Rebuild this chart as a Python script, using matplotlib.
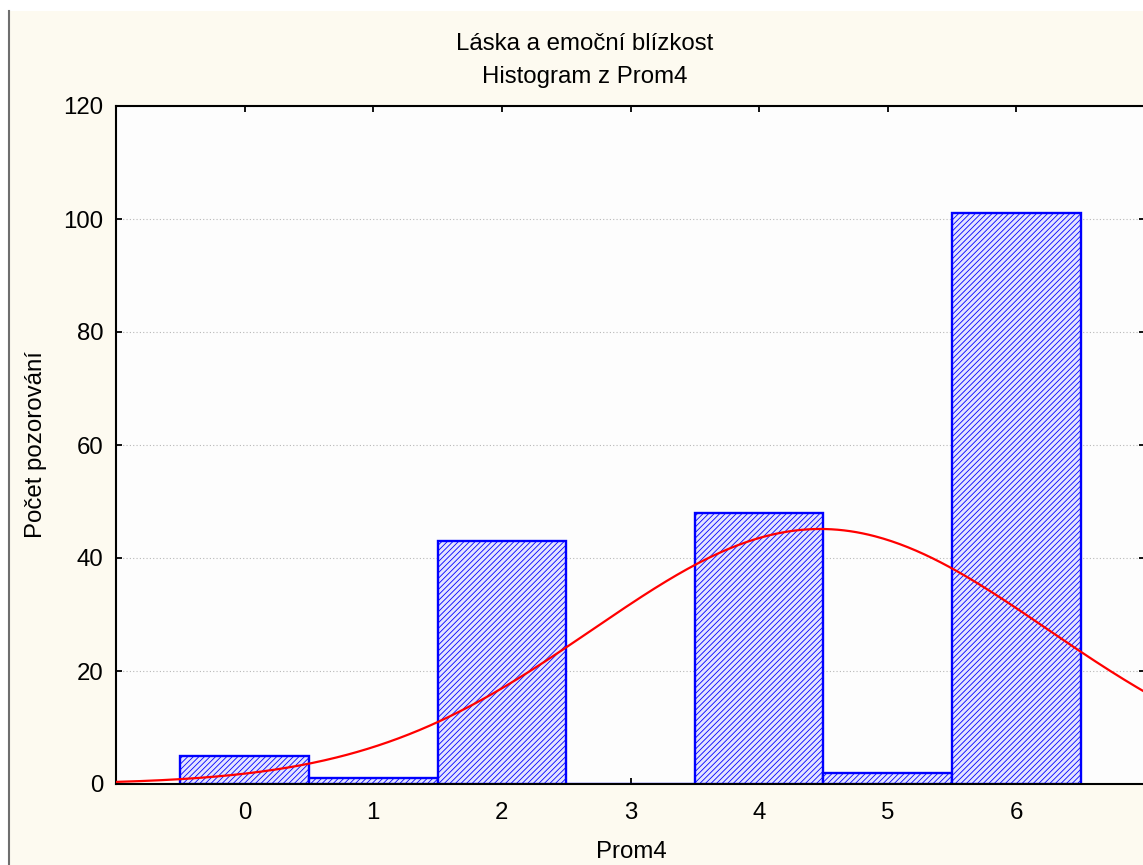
import numpy as np
import matplotlib
matplotlib.use("Agg")
import matplotlib.pyplot as plt
from matplotlib.patches import Rectangle
from matplotlib.lines import Line2D

# Histogram data: observed counts for each value of Prom4
values = [0, 1, 2, 3, 4, 5, 6]
counts = [5, 1, 43, 0, 48, 2, 101]
tick_labels = ["0", "1", "2", "3", "4", "5", "6"]
y_ticks = [0, 20, 40, 60, 80, 100, 120]

title_lines = ["Láska a emoční blízkost", "Histogram z Prom4"]
x_label = "Prom4"
y_label = "Počet pozorování"

plt.rcParams["font.family"] = ["Liberation Sans", "DejaVu Sans"]
plt.rcParams["hatch.linewidth"] = 0.6

W, H = 1143, 865
FS = 17.3
fig = plt.figure(figsize=(W / 100, H / 100), dpi=100)
fig.patch.set_facecolor("#FDFAF0")

# window frame: white margin on top and left, grey border line
fig.add_artist(Rectangle((0, 1 - 11 / H), 1, 11 / H, transform=fig.transFigure,
                         facecolor="white", edgecolor="none", zorder=0))
fig.add_artist(Rectangle((0, 0), 8 / W, 1, transform=fig.transFigure,
                         facecolor="white", edgecolor="none", zorder=0))
fig.add_artist(Line2D([8.5 / W, 8.5 / W], [0, 1 - 11 / H], transform=fig.transFigure,
                      color="#6e6e6e", linewidth=1.5))

left, right, top, bottom = 116, 1145, 106, 784
ax = fig.add_axes([left / W, (H - bottom) / H, (right - left) / W, (bottom - top) / H])
ax.set_facecolor("#FDFDFD")

# bars
ax.bar(values, counts, width=1.0, facecolor="#E4E4FF", edgecolor="#0000FF",
       hatch="//////", linewidth=1.7, zorder=2)

# fitted normal curve scaled to the counts
vals = np.array(values, dtype=float)
cnt = np.array(counts, dtype=float)
n = cnt.sum()
mean = (vals * cnt).sum() / n
sd = np.sqrt(((vals - mean) ** 2 * cnt).sum() / (n - 1))
xs = np.linspace(-1, 7, 500)
ys = n * 1.0 / (sd * np.sqrt(2 * np.pi)) * np.exp(-0.5 * ((xs - mean) / sd) ** 2)
ax.plot(xs, ys, color="#FF0000", linewidth=1.6, zorder=3)

ax.set_xlim(-1, 7)
ax.set_ylim(0, 120)
ax.set_xticks(values)
ax.set_xticklabels(tick_labels)
ax.set_yticks(y_ticks)
ax.yaxis.grid(True, linestyle=(0, (1, 2)), color="#b8b8b8", linewidth=0.8, zorder=0)
ax.set_axisbelow(True)

ax.tick_params(axis="both", direction="in", length=4, width=1.3, colors="black",
               labelsize=FS, top=True, right=True)
ax.tick_params(axis="x", pad=13)
ax.tick_params(axis="y", pad=9)
for sp in ax.spines.values():
    sp.set_linewidth(1.5)
    sp.set_color("black")

fig.text(585 / W, (H - 50) / H, title_lines[0], ha="center", va="baseline", fontsize=FS)
fig.text(585 / W, (H - 83) / H, title_lines[1], ha="center", va="baseline", fontsize=FS)
fig.text(631 / W, (H - 858) / H, x_label, ha="center", va="baseline", fontsize=FS)
fig.text(36 / W, (H - 445) / H, y_label, ha="center", va="center", rotation=90, fontsize=FS)

fig.savefig("out.png", dpi=100, facecolor=fig.get_facecolor())
